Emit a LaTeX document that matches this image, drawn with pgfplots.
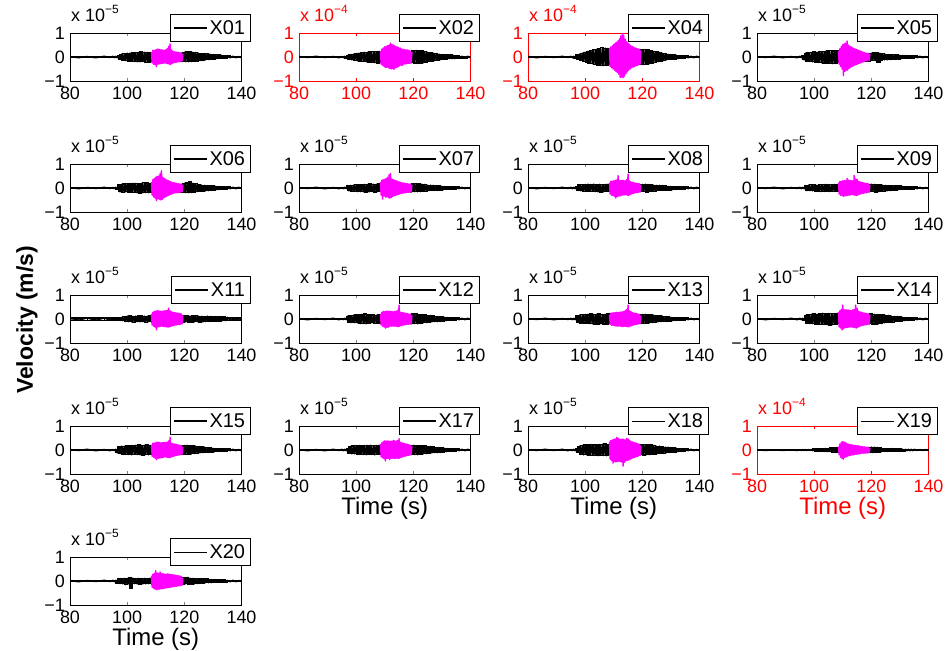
\documentclass[border=0pt]{standalone}
\usepackage{fontspec}
\setmainfont{Liberation Sans}
\usepackage{pgfplots}
\usepackage{pgfplotstable}
\pgfplotsset{compat=1.18}
\definecolor{mgt}{RGB}{255,0,255}

% velocity in units of 1e-7 m/s (panels scaled 1e-5) or 1e-6 m/s (panels scaled 1e-4)
\pgfplotstableread{
x c01 c02 c04 c05 c06 c07 c08 c09 c11 c12 c13 c14 c15 c17 c18 c19 c20
80 2 2 2 2 2 2 2 2 4 2 2 2 2 2 2 1 2
83 -3 -2 -3 -2 -3 -2 -3 -2 -5 -3 -2 -3 -2 -3 -2 -2 -3
86 2 3 2 3 2 3 2 3 4 2 3 2 3 2 3 1 2
89 -3 -2 -2 -3 -2 -3 -2 -3 -5 -2 -3 -2 -3 -3 -2 -2 -2
92 3 2 3 2 3 2 3 2 4 3 2 3 2 3 3 1 3
94 -2 -3 -2 -3 -2 -3 -2 -2 -5 -3 -2 -3 -3 -2 -3 -2 -2
95 3 2 3 3 2 2 3 3 4 2 3 3 2 3 2 1 3
95.5 -3 -3 -3 -3 -3 -3 -3 -3 -5 -3 -3 -3 -3 -3 -3 -2 -3
96 3 3 3 4 3 3 3 3 5 3 3 3 3 3 3 2 3
96.5 -3 -5 -4 -12 -4 -3 -3 -3 -5 -3 -3 -4 -12 -3 -3 -2 -9
97 5 7 8 16 14 10 5 10 5 12 13 15 14 5 4 2 10
97.5 -10 -9 -10 -18 -16 -12 -11 -11 -6 -14 -15 -17 -15 -13 -8 -2 -11
98 12 10 12 17 15 11 13 12 6 13 16 18 16 15 16 2 10
98.5 -14 -12 -14 -19 -18 -13 -12 -11 -7 -15 -17 -19 -17 -16 -18 -2 -12
99 13 12 16 18 17 12 14 13 10 16 18 20 16 17 19 3 11
99.5 -15 -14 -18 -20 -16 -14 -13 -12 -11 -15 -17 -19 -18 -16 -20 -3 -15
100 16 15 20 21 18 13 15 14 12 17 19 21 17 18 21 4 11
100.5 -17 -16 -22 -22 -17 -15 -14 -13 -11 -16 -18 -22 -19 -17 -20 -5 -12
101 16 16 24 20 19 14 16 12 13 18 20 20 18 19 22 4 15
101.5 -18 -17 -25 -23 -18 -15 -14 -14 -12 -19 -19 -23 -20 -18 -21 -5 -30
102 17 18 27 22 20 14 15 13 11 20 21 21 19 17 23 5 12
102.5 -19 -18 -28 -24 -18 -16 -13 -15 -13 -19 -20 -22 -18 -19 -22 -6 -11
103 18 19 30 23 19 15 16 13 12 21 19 24 20 18 21 5 10
103.5 -20 -20 -31 -25 -20 -17 -15 -14 -11 -20 -21 -23 -19 -20 -23 -6 -12
104 19 20 32 24 18 15 14 15 13 18 20 22 21 19 22 6 11
104.5 -20 -21 -34 -26 -21 -16 -16 -13 -12 -17 -22 -24 -20 -18 -24 -7 -13
105 21 22 35 25 19 17 15 14 13 18 21 23 19 20 23 6 10
105.5 -19 -23 -36 -27 -20 -15 -17 -15 -11 -16 -20 -25 -21 -19 -22 -7 -12
106 20 22 38 26 22 16 14 13 12 17 19 22 20 18 24 8 11
106.5 -22 -24 -36 -28 -19 -17 -16 -14 -13 -18 -21 -24 -19 -20 -23 -9 -12
107 20 23 37 25 21 16 15 15 12 16 20 23 21 19 25 8 10
107.5 -21 -25 -35 -27 -20 -15 -14 -13 -11 -17 -22 -22 -20 -18 -24 -10 -11
108 19 24 36 26 19 17 16 14 13 18 21 24 19 20 23 9 12
108.5 -12 -15 -30 -20 -15 -12 -12 -10 -10 -12 -14 -16 -14 -14 -16 -8 -10
119.5 -18 -24 -28 -15 -18 -16 -14 -15 -13 -20 -17 -20 -17 -18 -20 -10 -13
120 20 26 30 16 20 17 15 16 14 22 19 22 19 20 22 12 14
120.5 -19 -25 -32 -14 -19 -15 -13 -14 -12 -19 -18 -21 -18 -19 -21 -11 -12
121 21 28 31 17 21 18 16 15 14 21 20 20 20 17 23 12 15
121.5 -20 -27 -29 -15 -20 -16 -18 -17 -13 -20 -17 -22 -17 -20 -20 -10 -13
122 22 26 30 18 25 17 15 14 12 18 18 19 18 18 22 11 12
122.5 -19 -25 -28 -22 -19 -15 -14 -15 -14 -19 -16 -20 -16 -17 -19 -9 -14
123 20 27 26 16 20 16 13 13 13 17 17 18 17 19 21 8 11
123.5 -18 -24 -25 -14 -17 -14 -14 -14 -12 -16 -15 -19 -15 -16 -18 -7 -12
124 19 22 24 13 18 15 12 12 13 17 16 17 16 17 19 6 10
124.5 -17 -21 -22 -12 -15 -13 -13 -13 -11 -15 -14 -16 -14 -15 -17 -6 -11
125 16 20 21 11 14 12 11 11 12 14 13 15 13 14 16 5 9
125.5 -15 -18 -20 -12 -13 -11 -10 -12 -13 -13 -12 -14 -12 -13 -15 -6 -10
126 14 17 18 10 12 12 11 10 11 14 13 15 13 14 16 5 8
126.5 -15 -18 -17 -11 -13 -10 -9 -11 -12 -12 -11 -13 -11 -12 -14 -5 -9
127 13 16 16 9 11 11 10 9 10 13 12 12 12 13 13 6 8
127.5 -12 -15 -15 -10 -12 -10 -8 -10 -11 -11 -10 -13 -10 -11 -14 -5 -7
128 13 14 14 9 10 9 9 9 12 10 9 11 9 10 12 5 8
128.5 -11 -13 -12 -8 -11 -10 -8 -8 -10 -11 -10 -10 -10 -11 -11 -4 -7
129 12 12 11 9 9 8 7 9 11 9 8 11 8 9 12 5 6
129.5 -10 -11 -10 -8 -10 -9 -8 -7 -9 -10 -9 -9 -9 -10 -10 -4 -7
130 9 10 10 7 9 7 6 8 10 8 7 9 7 8 9 4 6
130.5 -8 -9 -9 -6 -8 -7 -7 -6 -9 -8 -7 -8 -7 -8 -9 -4 -5
131 9 10 8 6 7 6 5 7 10 7 6 7 6 7 8 3 6
131.5 -7 -8 -8 -5 -7 -6 -6 -5 -8 -7 -6 -7 -6 -7 -8 -4 -5
132 8 9 7 6 6 5 5 6 9 6 5 6 5 6 7 3 5
132.5 -6 -7 -7 -5 -6 -5 -5 -5 -8 -6 -5 -6 -5 -6 -7 -3 -4
133 7 8 6 5 5 5 4 5 8 5 5 5 5 5 6 3 4
133.5 -6 -7 -6 -4 -5 -4 -4 -4 -7 -5 -4 -5 -4 -5 -6 -3 -4
134 5 6 5 5 5 4 4 4 8 5 4 5 4 5 5 3 4
134.5 -6 -7 -5 -4 -4 -4 -4 -4 -7 -4 -4 -4 -4 -4 -5 -3 -4
135 5 6 5 4 4 4 4 4 7 4 4 4 4 4 5 3 3
136 -3 -4 -3 -3 -3 -3 -3 -3 -5 -3 -3 -3 -3 -3 -3 -2 -3
137 3 3 3 3 3 3 3 3 5 3 3 3 3 3 3 2 3
138 -3 -4 -3 -3 -3 -3 -3 -3 -5 -3 -3 -3 -3 -3 -3 -2 -3
139 2 3 3 2 3 2 3 2 4 3 2 3 2 3 2 2 2
140 -3 -3 -2 -3 -2 -3 -2 -3 -5 -2 -3 -2 -3 -2 -3 -1 -3
}\blktab

\pgfplotstableread{
x c01 c02 c04 c05 c06 c07 c08 c09 c11 c12 c13 c14 c15 c17 c18 c19 c20
108.5 20 25 38 25 25 25 22 22 22 22 18 30 22 25 35 15 22
108.75 -25 -30 -40 -30 -30 -30 -25 -25 -25 -25 -22 -33 -26 -28 -38 -20 -26
109 28 33 42 35 35 32 28 27 28 28 24 35 28 30 40 25 28
109.25 -30 -35 -45 -40 -38 -46 -30 -30 -30 -30 -26 -38 -30 -33 -45 -30 -30
109.5 27 38 47 45 40 35 28 28 32 32 25 40 29 35 42 33 32
109.75 -32 -40 -50 -50 -42 -33 -32 -32 -34 -33 -27 -46 -34 -36 -55 -36 -34
110 30 42 52 52 45 36 30 30 33 31 26 58 31 38 45 35 43
110.25 -40 -44 -55 -78 -53 -38 -35 -35 -45 -38 -28 -40 -40 -46 -48 -38 -36
110.5 33 45 58 55 48 40 32 31 35 33 27 38 33 37 46 33 33
110.75 -30 -43 -60 -60 -45 -37 -42 -33 -33 -35 -29 -37 -35 -36 -50 -31 -35
111 32 47 62 58 50 45 33 30 34 32 28 39 32 38 52 30 32
111.25 -29 -45 -65 -55 -47 -40 -35 -32 -32 -34 -30 -36 -34 -35 -48 -28 -34
111.5 31 50 68 67 60 55 52 40 33 33 27 38 31 37 50 27 38
111.75 -28 -48 -72 -55 -50 -42 -34 -31 -31 -31 -29 -35 -33 -40 -47 -26 -33
112 30 58 76 50 72 60 32 33 32 32 28 37 30 36 45 25 31
112.25 -27 -50 -85 -48 -48 -40 -33 -30 -30 -30 -30 -34 -32 -35 -48 -24 -32
112.5 29 52 88 45 45 38 31 32 33 31 29 36 31 37 44 23 30
112.75 -26 -48 -84 -43 -42 -36 -30 -29 -31 -29 -31 -33 -30 -34 -50 -22 -31
113 28 50 100 42 40 35 32 31 34 30 30 35 32 40 46 22 29
113.25 -25 -52 -86 -40 -38 -33 -30 -28 -32 -31 -32 -34 -29 -36 -67 -21 -30
113.5 30 47 90 38 36 32 31 30 35 32 31 38 31 38 44 21 28
113.75 -27 -45 -80 -37 -35 -31 -29 -29 -33 -30 -30 -35 -30 -35 -52 -20 -29
114 35 43 74 35 33 30 30 52 36 33 35 40 33 37 42 20 30
114.25 -28 -45 -70 -34 -32 -29 -28 -30 -34 -31 -31 -36 -31 -34 -45 -19 -28
114.5 45 42 65 33 30 28 35 38 45 36 40 58 38 40 48 19 29
114.75 -30 -40 -62 -32 -29 -27 -30 -32 -33 -32 -32 -38 -32 -35 -43 -18 -27
115 55 38 58 31 28 26 58 36 35 58 58 45 53 47 46 18 28
115.25 -32 -36 -55 -30 -27 -25 -32 -30 -31 -30 -33 -35 -31 -34 -42 -17 -26
115.5 30 37 52 28 25 24 30 28 30 29 34 33 29 32 40 17 27
115.75 -27 -34 -50 -27 -24 -23 -28 -27 -29 -28 -30 -32 -28 -31 -38 -16 -25
116 25 33 47 26 23 22 26 26 28 27 31 30 27 30 37 16 26
116.25 -24 -35 -45 -25 -22 -22 -25 -25 -27 -26 -28 -29 -26 -29 -36 -15 -24
116.5 22 32 44 24 22 21 24 24 27 26 27 28 25 28 34 15 25
116.75 -23 -30 -42 -22 -21 -21 -23 -23 -26 -25 -26 -27 -25 -27 -33 -14 -23
117 21 31 41 21 20 20 22 23 26 25 25 26 24 27 32 14 24
117.25 -22 -29 -40 -20 -20 -20 -21 -22 -25 -24 -24 -26 -23 -26 -31 -13 -22
117.5 20 30 38 19 19 19 21 21 25 24 24 25 23 25 30 13 23
117.75 -21 -28 -37 -18 -19 -19 -20 -21 -24 -23 -23 -25 -22 -24 -29 -13 -21
118 19 29 36 17 18 18 20 20 24 23 23 24 21 24 28 12 22
118.25 -20 -27 -35 -16 -18 -18 -19 -20 -23 -22 -22 -24 -21 -23 -27 -12 -20
118.5 18 28 34 16 17 17 19 19 23 21 21 23 20 22 26 12 21
118.75 -19 -26 -33 -15 -17 -17 -18 -18 -22 -20 -20 -22 -19 -21 -25 -11 -19
119 17 25 32 14 16 16 17 17 21 20 19 21 18 20 24 11 18
119.25 -15 -24 -30 -13 -15 -15 -16 -16 -20 -18 -18 -20 -17 -19 -22 -10 -17
119.5 12 20 28 12 12 12 12 12 15 14 14 16 13 15 18 8 13
}\magtab

\newcommand{\scl}[1]{x 10\raisebox{8bp}{\fontsize{12}{12}\selectfont −#1}}

\pgfplotsset{
  seis/.style={
    scale only axis, width=171.5bp, height=48bp,
    xmin=80, xmax=140, ymin=-100, ymax=100,
    xtick={80,100,120,140}, xticklabels={80,100,120,140},
    ytick={-100,0,100}, yticklabels={−1,0,1},
    tick align=inside, major tick length=3bp,
    axis line style={line width=0.9bp},
    every tick/.append style={line width=0.9bp},
    tick label style={font=\fontsize{18}{18}\selectfont, inner sep=0pt},
    xticklabel style={yshift=-6bp},
    yticklabel style={xshift=-5bp},
    title={\scl{5}},
    title style={at={(axis description cs:0,1)}, anchor=south west, inner sep=0pt, yshift=5bp, xshift=1bp, font=\fontsize{18}{18}\selectfont},
    xlabel style={at={(axis description cs:0.5,0)}, anchor=center, yshift=-34bp, font=\fontsize{24}{24}\selectfont},
    legend style={at={(1.052,1.396)}, anchor=north east, draw=black, line width=0.9bp, fill=white,
      inner xsep=3bp, inner ysep=4bp, font=\fontsize{20}{20}\selectfont,
      nodes={inner sep=2bp}},
    legend image code/.code={\draw[black, line width=1.3bp] (0bp,0bp) -- (33bp,0bp);},
  },
  redax/.style={
    axis line style={red},
    every tick/.append style={red},
    xticklabel style={text=red}, yticklabel style={text=red},
    title={\scl{4}}, title style={text=red}, xlabel style={text=red},
  },
}

% the black trace is stroked as a polyline and, from the same samples, as left/right step plots
% so that the dense oscillation renders as a solid band
\newcommand{\panel}[5]{%
  \begin{axis}[seis, at={(#1bp,-#2bp)}, anchor=north west, #5]
    \addplot[black, line width=1.4bp, line join=round] table[x=x, y=#3] {\blktab};
    \addlegendentry{#4}
    \addplot[black, line width=1.2bp, const plot mark left, forget plot] table[x=x, y=#3] {\blktab};
    \addplot[black, line width=1.2bp, const plot mark right, forget plot] table[x=x, y=#3] {\blktab};
    \addplot[mgt, line width=1.4bp, line join=round, forget plot] table[x=x, y=#3] {\magtab};
  \end{axis}}

\begin{document}
\begin{tikzpicture}
\path[use as bounding box] (0,0) rectangle (949bp,-651bp);
% row 1
\panel{70}{33}{c01}{X01}{}
\panel{299}{33}{c02}{X02}{redax}
\panel{528}{33}{c04}{X04}{redax}
\panel{757}{33}{c05}{X05}{}
% row 2
\panel{70}{164}{c06}{X06}{}
\panel{299}{164}{c07}{X07}{}
\panel{528}{164}{c08}{X08}{}
\panel{757}{164}{c09}{X09}{}
% row 3
\panel{70}{295}{c11}{X11}{}
\panel{299}{295}{c12}{X12}{}
\panel{528}{295}{c13}{X13}{}
\panel{757}{295}{c14}{X14}{}
% row 4
\panel{70}{426}{c15}{X15}{}
\panel{299}{426}{c17}{X17}{xlabel={Time (s)}}
\panel{528}{426}{c18}{X18}{xlabel={Time (s)}}
\panel{757}{426}{c19}{X19}{redax, xlabel={Time (s)}}
% row 5
\panel{70}{557}{c20}{X20}{xlabel={Time (s)}}
\node[rotate=90, font=\bfseries\fontsize{23}{23}\selectfont] at (27bp,-320bp) {Velocity (m/s)};
\end{tikzpicture}
\end{document}
